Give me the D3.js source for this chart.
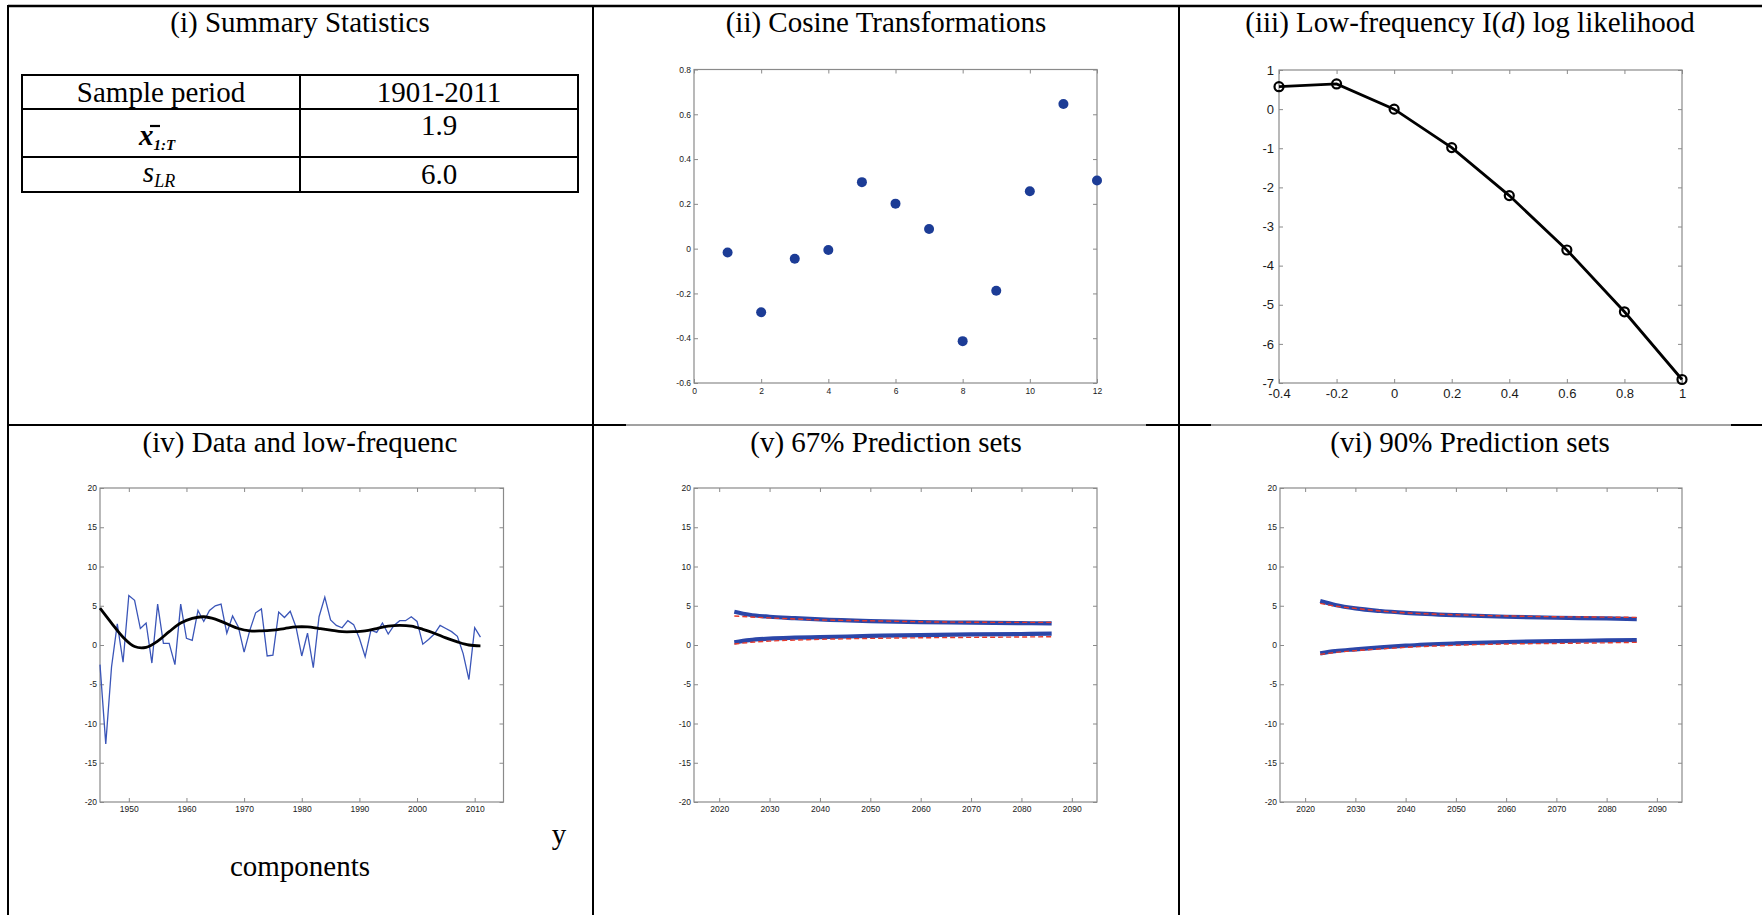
<!DOCTYPE html>
<html><head><meta charset="utf-8">
<script src="https://cdn.jsdelivr.net/npm/d3@7"></script>
<style>body{margin:0;background:#fff}svg{display:block}</style>
</head><body>
<svg id="c" width="1762" height="915"></svg>
<script>
// ---------- data ----------
const tableRows = ["Sample period", "xbar", "slr"];
const tableValues = ["1901-2011", "1.9", "6.0"];

const cosX = [1,2,3,4,5,6,7,8,9,10,11,12];
const cosY = [-0.017,-0.284,-0.045,-0.006,0.297,0.201,0.088,-0.413,-0.188,0.256,0.646,0.304];
const cosXTicks = [0,2,4,6,8,10,12];
const cosYTicks = [-0.6,-0.4,-0.2,0,0.2,0.4,0.6,0.8];

const llX = [-0.4,-0.2,0,0.2,0.4,0.6,0.8,1.0];
const llY = [0.574,0.643,0.0,-0.983,-2.21,-3.60,-5.18,-6.91];
const llXTicks = [-0.4,-0.2,0,0.2,0.4,0.6,0.8,1];
const llYTicks = [-7,-6,-5,-4,-3,-2,-1,0,1];

const dataYears = [1945,1946,1947,1948,1949,1950,1951,1952,1953,1954,1955,1956,1957,1958,1959,1960,1961,1962,1963,1964,1965,1966,1967,1968,1969,1970,1971,1972,1973,1974,1975,1976,1977,1978,1979,1980,1981,1982,1983,1984,1985,1986,1987,1988,1989,1990,1991,1992,1993,1994,1995,1996,1997,1998,1999,2000,2001,2002,2003,2004,2005,2006,2007,2008,2009,2010,2011];
const dataValues = [-2.5,-12.6,-2.8,2.7,-2.2,6.3,5.7,2.1,2.8,-2.3,5.2,0.2,0.2,-2.5,5.2,0.85,0.6,4.4,3.0,4.4,5.0,5.2,1.5,3.7,2.3,-0.9,1.9,4.1,4.6,-1.4,-1.3,4.2,3.5,4.3,2.3,-1.4,1.5,-2.9,3.6,6.1,3.2,2.5,2.2,3.1,2.6,0.85,-1.5,1.9,1.6,2.8,1.4,2.5,3.1,3.1,3.6,3.0,0.1,0.7,1.4,2.5,2.1,1.7,1.1,-1.1,-4.4,2.2,1.0];
const lfYears = [1945,1947,1949,1951,1953,1955,1957,1959,1961,1963,1965,1967,1969,1971,1973,1975,1977,1979,1981,1983,1985,1987,1989,1991,1993,1995,1997,1999,2001,2003,2005,2007,2009,2011];
const lfValues = [4.7,2.8,1.0,-0.2,-0.3,0.5,1.7,2.8,3.4,3.6,3.3,2.7,2.1,1.8,1.8,1.9,2.1,2.3,2.3,2.1,1.9,1.7,1.7,1.8,2.1,2.4,2.5,2.4,2.0,1.5,0.9,0.4,0.0,-0.1];
const dataXTicks = [1950,1960,1970,1980,1990,2000,2010];
const bigYTicks = [-20,-15,-10,-5,0,5,10,15,20];

const predYears = [2023,2026,2030,2035,2040,2050,2060,2070,2080,2086];
const p67UpperBlue = [4.24,3.85,3.6,3.42,3.26,3.05,2.92,2.84,2.78,2.75];
const p67LowerBlue = [0.34,0.62,0.82,0.93,1.0,1.15,1.27,1.35,1.4,1.44];
const p67UpperRed  = [3.7,3.58,3.45,3.32,3.2,3.08,2.96,2.9,2.88,2.88];
const p67LowerRed  = [0.13,0.32,0.5,0.62,0.72,0.84,0.92,0.97,1.02,1.06];
const p90UpperBlue = [5.6,5.1,4.66,4.33,4.1,3.8,3.6,3.47,3.38,3.3];
const p90LowerBlue = [-1.06,-0.78,-0.55,-0.3,-0.08,0.2,0.38,0.5,0.58,0.64];
const p90UpperRed  = [5.3,4.95,4.66,4.33,4.1,3.85,3.7,3.6,3.55,3.52];
const p90LowerRed  = [-1.2,-0.95,-0.72,-0.5,-0.3,-0.04,0.13,0.2,0.28,0.34];
const predXTicks = [2020,2030,2040,2050,2060,2070,2080,2090];

const titles = ["(i) Summary Statistics","(ii) Cosine Transformations","(iii) Low-frequency I(","(iv) Data and low-frequenc","(v) 67% Prediction sets","(vi) 90% Prediction sets"];

// ---------- drawing ----------
const svg = d3.select("#c");
svg.append("rect").attr("width",1762).attr("height",915).attr("fill","#fff");
const SERIF = "'Liberation Serif','Times New Roman',serif";
const SANS = "'Liberation Sans',Arial,Helvetica,sans-serif";
const BOX = "#8a8a8a";
const FS = 29;

// layout grid
const grid = svg.append("g").attr("stroke","#000").attr("fill","none");
grid.append("line").attr("x1",8).attr("x2",1762).attr("y1",6).attr("y2",6).attr("stroke-width",2.5);
grid.append("line").attr("x1",8).attr("x2",8).attr("y1",5).attr("y2",915).attr("stroke-width",2);
[593,1179].forEach(x=>grid.append("line").attr("x1",x).attr("x2",x).attr("y1",5).attr("y2",915).attr("stroke-width",2));
grid.append("line").attr("x1",8).attr("x2",1762).attr("y1",425).attr("y2",425).attr("stroke-width",1).attr("stroke","#444");
[[8,626],[1146,1211],[1731,1762]].forEach(s=>grid.append("line").attr("x1",s[0]).attr("x2",s[1]).attr("y1",425).attr("y2",425).attr("stroke-width",2));

// titles
const cellCx = [300,886,1470];
function title(i, y){
  return svg.append("text").attr("x",cellCx[i%3]).attr("y",y).attr("text-anchor","middle")
    .attr("font-family",SERIF).attr("font-size",FS).attr("fill","#000");
}
title(0,32).text(titles[0]);
title(1,32).text(titles[1]);
const t3 = title(2,32);
t3.append("tspan").text(titles[2]);
t3.append("tspan").attr("font-style","italic").text("d");
t3.append("tspan").text(") log likelihood");
title(3,452).text(titles[3]);
title(4,452).text(titles[4]);
title(5,452).text(titles[5]);

svg.append("text").attr("x",559).attr("y",844).attr("text-anchor","middle").attr("font-family",SERIF).attr("font-size",FS).text("y");
svg.append("text").attr("x",300).attr("y",876).attr("text-anchor","middle").attr("font-family",SERIF).attr("font-size",FS).text("components");

// table (i)
const tb = svg.append("g");
const tX = [22,300,578], tY = [75,109,157,192];
tb.append("rect").attr("x",tX[0]).attr("y",tY[0]).attr("width",tX[2]-tX[0]).attr("height",tY[3]-tY[0]).attr("fill","none").attr("stroke","#000").attr("stroke-width",2);
tb.append("line").attr("x1",tX[1]).attr("x2",tX[1]).attr("y1",tY[0]).attr("y2",tY[3]).attr("stroke","#000").attr("stroke-width",2);
[tY[1],tY[2]].forEach(y=>tb.append("line").attr("x1",tX[0]).attr("x2",tX[2]).attr("y1",y).attr("y2",y).attr("stroke","#000").attr("stroke-width",2));
const c1 = (tX[0]+tX[1])/2, c2 = (tX[1]+tX[2])/2;
const txt = (x,y)=>tb.append("text").attr("x",x).attr("y",y).attr("text-anchor","middle").attr("font-family",SERIF).attr("font-size",FS).attr("fill","#000");
txt(c1,102).text(tableRows[0]);
txt(c2,102).text(tableValues[0]);
txt(c2,135).text(tableValues[1]);
txt(c2,184).text(tableValues[2]);
// x-bar 1:T
const xb = txt(c1-4,145).attr("font-weight","bold").attr("font-style","italic");
xb.append("tspan").text("x");
xb.append("tspan").attr("font-size",15).attr("dy",5).text("1:T");
tb.append("line").attr("x1",c1-11).attr("x2",c1-1).attr("y1",126).attr("y2",126).attr("stroke","#000").attr("stroke-width",2.2);
// s_LR
const sl = txt(c1-2,182).attr("font-style","italic");
sl.append("tspan").text("s");
sl.append("tspan").attr("font-size",18).attr("dy",5).text("LR");

// generic MATLAB-like axes frame
function frame(g, x, y, o){
  const [x0,x1] = x.range(), [yb,yt] = y.range();
  const style = sel => {
    sel.select(".domain").remove();
    sel.selectAll(".tick line").attr("stroke",BOX).attr("stroke-width",1);
    sel.selectAll(".tick text").attr("font-family",SANS).attr("font-size",o.fs).attr("fill","#1a1a1a");
  };
  g.append("g").attr("transform",`translate(0,${yb})`).call(d3.axisBottom(x).tickValues(o.xt).tickSize(-o.tl).tickPadding(o.px).tickFormat(o.fmt)).call(style);
  g.append("g").attr("transform",`translate(0,${yt})`).call(d3.axisTop(x).tickValues(o.xt).tickSize(-o.tl).tickFormat("")).call(style);
  g.append("g").attr("transform",`translate(${x0},0)`).call(d3.axisLeft(y).tickValues(o.yt).tickSize(-o.tl).tickPadding(o.py).tickFormat(o.fmt)).call(style);
  g.append("g").attr("transform",`translate(${x1},0)`).call(d3.axisRight(y).tickValues(o.yt).tickSize(-o.tl).tickFormat("")).call(style);
  g.append("rect").attr("x",x0).attr("y",yt).attr("width",x1-x0).attr("height",yb-yt).attr("fill","none").attr("stroke",BOX).attr("stroke-width",1.2);
}
const fmt = d => (Math.abs(d)<1e-9 ? "0" : String(+d.toFixed(2)));

// (ii) cosine transformations
{
  const g = svg.append("g");
  const x = d3.scaleLinear().domain([0,12]).range([694,1097]);
  const y = d3.scaleLinear().domain([-0.6,0.8]).range([383,69.5]);
  frame(g,x,y,{xt:cosXTicks,yt:cosYTicks,tl:4,px:5,py:3,fs:8.5,fmt});
  g.selectAll("circle.d").data(cosX).enter().append("circle")
    .attr("cx",d=>x(d)).attr("cy",(d,i)=>y(cosY[i])).attr("r",5).attr("fill","#1c3c96");
}
// (iii) log likelihood
{
  const g = svg.append("g");
  const x = d3.scaleLinear().domain([-0.4,1]).range([1279,1682]);
  const y = d3.scaleLinear().domain([-7,1]).range([383,70]);
  frame(g,x,y,{xt:llXTicks,yt:llYTicks,tl:4,px:6,py:5,fs:13,fmt});
  g.append("path").datum(llX).attr("fill","none").attr("stroke","#000").attr("stroke-width",2.8)
    .attr("d",d3.line().x(d=>x(d)).y((d,i)=>y(llY[i])));
  g.selectAll("circle.m").data(llX).enter().append("circle")
    .attr("cx",d=>x(d)).attr("cy",(d,i)=>y(llY[i])).attr("r",4.5).attr("fill","none").attr("stroke","#000").attr("stroke-width",2.2);
}
// (iv) data + low frequency
{
  const g = svg.append("g");
  const x = d3.scaleLinear().domain([1945,2015]).range([100,503.5]);
  const y = d3.scaleLinear().domain([-20,20]).range([802,488]);
  frame(g,x,y,{xt:dataXTicks,yt:bigYTicks,tl:4,px:4,py:3,fs:8.5,fmt});
  g.append("path").datum(dataYears).attr("fill","none").attr("stroke","#3a55b8").attr("stroke-width",1.3)
    .attr("d",d3.line().x(d=>x(d)).y((d,i)=>y(dataValues[i])));
  g.append("path").datum(lfYears).attr("fill","none").attr("stroke","#000").attr("stroke-width",2.8)
    .attr("d",d3.line().curve(d3.curveCatmullRom).x(d=>x(d)).y((d,i)=>y(lfValues[i])));
}
// (v) & (vi) prediction sets
function pred(x0,x1,blueU,blueL,redU,redL){
  const g = svg.append("g");
  const x = d3.scaleLinear().domain([2015,2095]).range([x0,x1]);
  const y = d3.scaleLinear().domain([-20,20]).range([802,488]);
  frame(g,x,y,{xt:predXTicks,yt:bigYTicks,tl:4,px:4,py:3,fs:8.5,fmt});
  const mk = arr => d3.line().curve(d3.curveMonotoneX).x(d=>x(d)).y((d,i)=>y(arr[i]));
  [blueU,blueL].forEach(a=>g.append("path").datum(predYears).attr("fill","none").attr("stroke","#2b46a8").attr("stroke-width",4.2).attr("d",mk(a)));
  [redU,redL].forEach(a=>g.append("path").datum(predYears).attr("fill","none").attr("stroke","#e53a2c").attr("stroke-width",1.4).attr("stroke-dasharray","5,3").attr("d",mk(a)));
}
pred(694,1097,p67UpperBlue,p67LowerBlue,p67UpperRed,p67LowerRed);
pred(1280,1682,p90UpperBlue,p90LowerBlue,p90UpperRed,p90LowerRed);
</script></body></html>
